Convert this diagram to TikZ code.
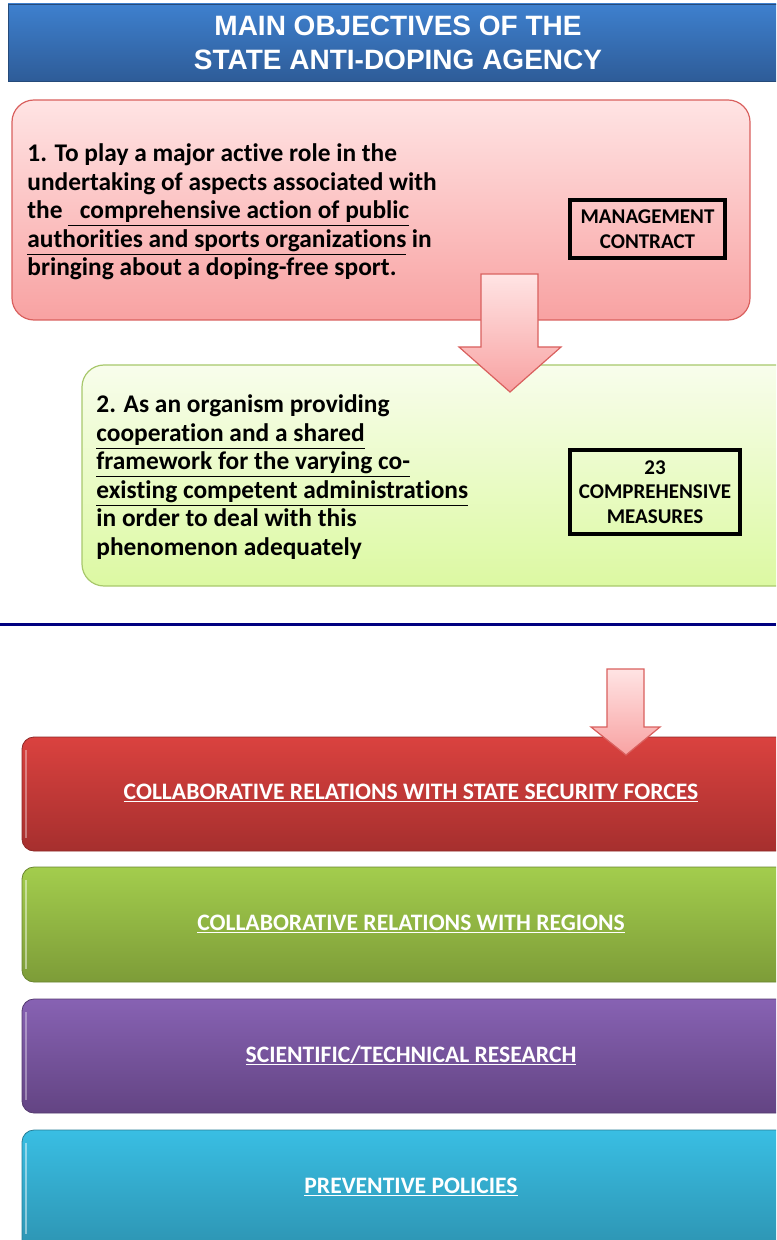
\documentclass[tikz,border=0pt]{standalone}
\usepackage{fontspec}
\setmainfont{Carlito}[Ligatures=NoCommon]
\newfontfamily\headfont{Liberation Sans}
\usepackage{xcolor}
\usetikzlibrary{calc}

\definecolor{headtop}{HTML}{3E80CE}
\definecolor{headbot}{HTML}{2E5C98}
\definecolor{pinktop}{HTML}{FFE4E4}
\definecolor{pinkbot}{HTML}{F8A2A2}
\definecolor{pinkline}{HTML}{D9605E}
\definecolor{greentop}{HTML}{F8FDEC}
\definecolor{greenbot}{HTML}{DCF9A2}
\definecolor{greenline}{HTML}{A8C86C}
\definecolor{navyline}{HTML}{000080}
\definecolor{redtop}{HTML}{DA423F}
\definecolor{redbot}{HTML}{A62F2E}
\definecolor{lawntop}{HTML}{A3CD4D}
\definecolor{lawnbot}{HTML}{7D9C38}
\definecolor{violettop}{HTML}{8762B3}
\definecolor{violetbot}{HTML}{634483}
\definecolor{skytop}{HTML}{39BEE3}
\definecolor{skybot}{HTML}{2D93B1}

% underline for bar captions, kept at the baseline
\newcommand{\barul}[1]{\underline{\smash{#1}}}

\begin{document}
\begin{tikzpicture}[x=0.5pt, y=-0.5pt,
    goalbox/.style={rounded corners=11pt, line width=0.6pt},
    goaltext/.style={anchor=west, align=left, inner sep=0pt,
        font=\bfseries\fontsize{12.7}{14.25}\selectfont},
    tagbox/.style={draw=black, line width=2pt, align=center, inner sep=0pt,
        font=\bfseries\fontsize{10.5}{12.4}\selectfont},
    levelbar/.style={rounded corners=6pt, line width=0.4pt},
    bartext/.style={text=white, inner sep=0pt, anchor=base,
        font=\bfseries\fontsize{11.8}{14}\selectfont},
    blockarrow/.style={draw=pinkline, line width=0.6pt,
        top color=pinktop, bottom color=pinkbot}
]
    \useasboundingbox (0,0) rectangle (776,1240);
    \clip (0,0) rectangle (776,1240);

    % Title banner
    \shade[top color=headtop, bottom color=headbot, draw=headbot!80!black, line width=0.4pt]
        (8,4) rectangle (790,81);
    \node[text=white, align=center, inner sep=0pt,
        font=\headfont\bfseries\fontsize{14}{17}\selectfont] (title) at (398,43)
        {MAIN OBJECTIVES OF THE\\STATE ANTI-DOPING AGENCY};

    % Objective 1
    \shade[goalbox, draw=pinkline, top color=pinktop, bottom color=pinkbot]
        (12,100) rectangle (750,320);
    \node[goaltext] (goalone) at (27,212)
        {1. To play a major active role in the\\
         undertaking of aspects associated with\\
         the \underline{\ \ comprehensive action of public}\\
         \underline{authorities and sports organizations} in\\
         bringing about a doping-free sport.};
    \node[tagbox, minimum width=77.5pt, minimum height=29pt] (contract) at (647.5,229)
        {MANAGEMENT\\CONTRACT};

    % Objective 2
    \shade[goalbox, draw=greenline, top color=greentop, bottom color=greenbot]
        (82,365) rectangle (800,586);
    \node[goaltext] (goaltwo) at (96,477)
        {2. As an organism providing\\
         \underline{cooperation and a shared}\\
         \underline{framework for the varying co-}\\
         \underline{existing competent administrations}\\
         in order to deal with this\\
         phenomenon adequately};
    \node[tagbox, minimum width=85pt, minimum height=42pt] (measures) at (655,492)
        {23\\COMPREHENSIVE\\MEASURES};

    % Arrow between the objectives
    \shade[blockarrow] (481,274) -- (538,274) -- (538,347) -- (561,347)
        -- (510,392) -- (459,347) -- (481,347) -- cycle;

    % Separator
    \draw[navyline, line width=1.5pt] (0,624) -- (776,624);

    % Lines of action
    \shade[levelbar, draw=redbot!85!black, top color=redtop, bottom color=redbot]
        (22,737) rectangle (800,851);
    \draw[white, opacity=0.35, line width=1pt] (26,750) -- (26,838);
    \node[bartext] (security) at (411,799)
        {\barul{COLLABORATIVE RELATIONS WITH STATE SECURITY FORCES}};

    \shade[levelbar, draw=lawnbot!85!black, top color=lawntop, bottom color=lawnbot]
        (22,867) rectangle (800,982);
    \draw[white, opacity=0.45, line width=1pt] (26,880) -- (26,969);
    \node[bartext] (regions) at (411,930)
        {\barul{COLLABORATIVE RELATIONS WITH REGIONS}};

    \shade[levelbar, draw=violetbot!85!black, top color=violettop, bottom color=violetbot]
        (22,999) rectangle (800,1113);
    \draw[white, opacity=0.35, line width=1pt] (26,1012) -- (26,1100);
    \node[bartext] (research) at (411,1062)
        {\barul{SCIENTIFIC/TECHNICAL RESEARCH}};

    \shade[levelbar, draw=skybot!85!black, top color=skytop, bottom color=skybot]
        (22,1130) rectangle (800,1252);
    \draw[white, opacity=0.45, line width=1pt] (26,1143) -- (26,1234);
    \node[bartext] (prevention) at (411,1193)
        {\barul{PREVENTIVE POLICIES}};

    % Arrow into the first line of action
    \shade[blockarrow] (607,669) -- (644,669) -- (644,727) -- (660,727)
        -- (626,755) -- (591,727) -- (607,727) -- cycle;
\end{tikzpicture}
\end{document}
